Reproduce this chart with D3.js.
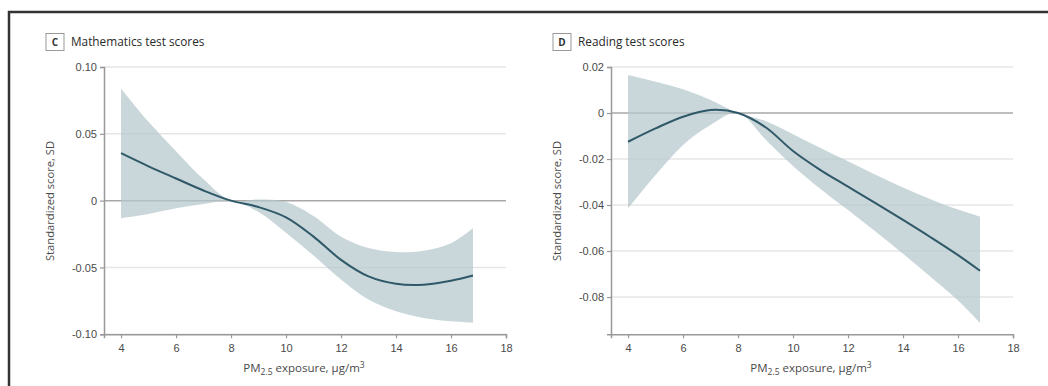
<!DOCTYPE html>
<html>
<head>
<meta charset="utf-8">
<script src="https://cdn.jsdelivr.net/npm/d3@7"></script>
<style>
  body { margin: 0; background: #fff; }
  svg { display: block; font-family: "Open Sans", "Noto Sans", sans-serif; }
  .tick text { fill: #4a4a4a; font-size: 11px; }
</style>
</head>
<body>
<svg id="chart" width="1048" height="386"></svg>
<script>
'use strict';

// Data: PM2.5 exposure vs standardized score (estimate, 95% CI)
var exposure = [4, 5, 6, 7, 8, 9, 10, 11, 12, 13, 14, 15, 16, 16.8]

var mathEst   = [0.0355, 0.0257, 0.0166, 0.0076, 0, -0.0048, -0.0125, -0.0269, -0.0443, -0.0567, -0.0622, -0.0629, -0.0599, -0.056]
var mathUpper = [0.084, 0.059, 0.037, 0.016, 0, 0.0008, -0.001, -0.0115, -0.027, -0.0355, -0.0385, -0.0375, -0.0318, -0.0206]
var mathLower = [-0.0131, -0.0099, -0.0057, -0.0025, 0, -0.0085, -0.024, -0.041, -0.059, -0.074, -0.0828, -0.0878, -0.0903, -0.0915]

var readEst   = [-0.0125, -0.0067, -0.0016, 0.0013, 0, -0.0062, -0.0165, -0.0248, -0.032, -0.0392, -0.0465, -0.054, -0.0618, -0.0686]
var readUpper = [0.0165, 0.0136, 0.0103, 0.0057, 0, -0.0035, -0.0092, -0.0152, -0.021, -0.0268, -0.0324, -0.0375, -0.042, -0.0451]
var readLower = [-0.0415, -0.027, -0.0139, -0.0052, 0, -0.0115, -0.023, -0.033, -0.0422, -0.0515, -0.0612, -0.0712, -0.0815, -0.0912]

var xTicks = [4, 6, 8, 10, 12, 14, 16, 18]
var mathTicks = [0.10, 0.05, 0, -0.05, -0.10]
var mathTickLabels = ['0.10', '0.05', '0', '-0.05', '-0.10']
var readTicks = [0.02, 0, -0.02, -0.04, -0.06, -0.08]
var readTickLabels = ['0.02', '0', '-0.02', '-0.04', '-0.06', '-0.08']

var svg = d3.select('#chart')

// Outer frame (top and left only visible)
svg.append('path')
  .attr('d', 'M9,386 L9,12 L1048,12')
  .attr('fill', 'none')
  .attr('stroke', '#333')
  .attr('stroke-width', 2.5)

function panel(opts) {
  var x = d3.scaleLinear().domain([3.38, 18]).range([opts.left, opts.left + 402])
  var y = d3.scaleLinear().domain(opts.yDomain).range([334.3, 67])

  var g = svg.append('g')

  // panel label box + title
  g.append('rect')
    .attr('x', opts.left - 58).attr('y', 33.5)
    .attr('width', 18).attr('height', 17)
    .attr('fill', '#fff').attr('stroke', '#999').attr('stroke-width', 1)
  g.append('text')
    .attr('x', opts.left - 49).attr('y', 46)
    .attr('text-anchor', 'middle')
    .attr('font-size', 10).attr('font-weight', 'bold').attr('fill', '#333')
    .text(opts.letter)
  g.append('text')
    .attr('x', opts.left - 33).attr('y', 46)
    .attr('font-size', 11.8).attr('fill', '#2a2a2a')
    .text(opts.title)

  // gridlines
  g.selectAll('.grid')
    .data(opts.ticks)
    .enter().append('line')
      .attr('x1', x.range()[0]).attr('x2', x.range()[1])
      .attr('y1', function(d){ return y(d) })
      .attr('y2', function(d){ return y(d) })
      .attr('stroke', function(d){ return d === 0 ? '#a8a8a8' : '#e6e6e6' })
      .attr('stroke-width', 1.5)

  var rows = exposure.map(function(v, i){
    return {x: v, est: opts.est[i], lo: opts.lower[i], hi: opts.upper[i]}
  })

  // confidence band
  var area = d3.area()
    .x(function(d){ return x(d.x) })
    .y0(function(d){ return y(d.lo) })
    .y1(function(d){ return y(d.hi) })
    .curve(d3.curveCatmullRom.alpha(0.5))
  g.append('path')
    .datum(rows)
    .attr('d', area)
    .attr('fill', '#b4c6cc')
    .attr('fill-opacity', 0.72)

  // estimate line
  var line = d3.line()
    .x(function(d){ return x(d.x) })
    .y(function(d){ return y(d.est) })
    .curve(d3.curveCatmullRom.alpha(0.5))
  g.append('path')
    .datum(rows)
    .attr('d', line)
    .attr('fill', 'none')
    .attr('stroke', '#2f5868')
    .attr('stroke-width', 2)

  // axes
  var yAxis = d3.axisLeft(y)
    .tickValues(opts.ticks)
    .tickFormat(function(d, i){ return opts.tickLabels[i] })
    .tickSize(4).tickPadding(3)
  var ya = g.append('g')
    .attr('transform', 'translate(' + opts.left + ',0)')
    .call(yAxis)

  var xAxis = d3.axisBottom(x)
    .tickValues(xTicks)
    .tickSize(4).tickPadding(6)
  var xa = g.append('g')
    .attr('transform', 'translate(0,334.3)')
    .call(xAxis)

  ;[ya, xa].forEach(function(a){
    a.select('.domain').attr('stroke', '#999').attr('stroke-width', 1.5)
    a.selectAll('.tick line').attr('stroke', '#999').attr('stroke-width', 1.2)
  })

  // axis titles
  g.append('text')
    .attr('transform', 'translate(' + (opts.left - 50) + ',201) rotate(-90)')
    .attr('text-anchor', 'middle')
    .attr('font-size', 11.2).attr('fill', '#4a4a4a')
    .text('Standardized score, SD')

  var xt = g.append('text')
    .attr('x', opts.left + 200).attr('y', 372)
    .attr('text-anchor', 'middle')
    .attr('font-size', 11.5).attr('fill', '#4a4a4a')
  xt.append('tspan').text('PM')
  xt.append('tspan').attr('font-size', 8.5).attr('dy', 3).text('2.5')
  xt.append('tspan').attr('dy', -3).text(' exposure, \u03bcg/m')
  xt.append('tspan').attr('font-size', 8.5).attr('dy', -4).text('3')
}

panel({
  left: 104, letter: 'C', title: 'Mathematics test scores',
  yDomain: [-0.10, 0.10], ticks: mathTicks, tickLabels: mathTickLabels,
  est: mathEst, upper: mathUpper, lower: mathLower
})

panel({
  left: 611, letter: 'D', title: 'Reading test scores',
  yDomain: [-0.0962, 0.02], ticks: readTicks, tickLabels: readTickLabels,
  est: readEst, upper: readUpper, lower: readLower
})
</script>
</body>
</html>
